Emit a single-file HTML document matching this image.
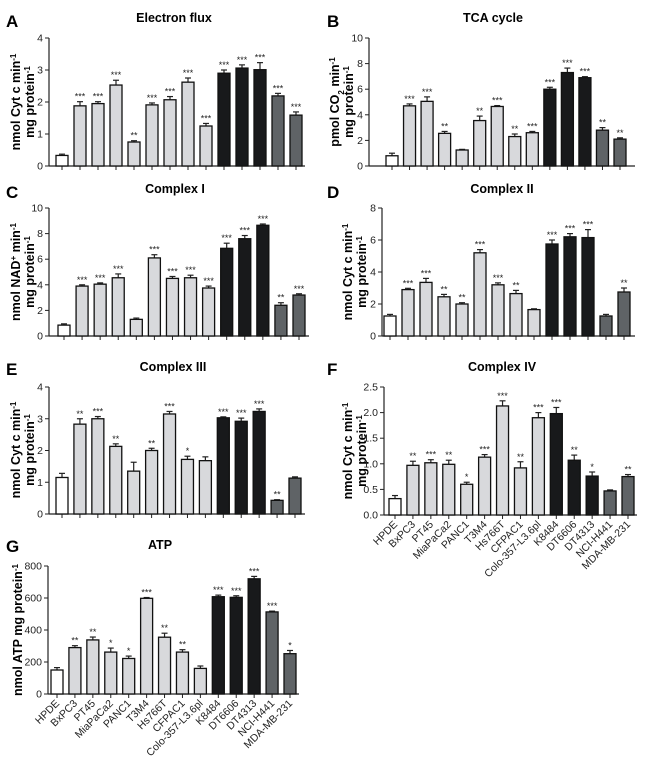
<!DOCTYPE html>
<html><head><meta charset="utf-8"><style>
html,body{margin:0;padding:0;background:#fff;}
svg{display:block;font-family:"Liberation Sans",Arial,sans-serif;}
</style></head><body>
<svg id="fig" width="650" height="769" viewBox="0 0 650 769"></svg>
<script>
const categories = ["HPDE","BxPC3","PT45","MiaPaCa2","PANC1","T3M4","Hs766T","CFPAC1","Colo-357-L3.6pl","K8484","DT6606","DT4313","NCI-H441","MDA-MB-231"];
const valuesA = [0.33,1.88,1.95,2.53,0.75,1.91,2.07,2.62,1.25,2.90,3.06,3.01,2.19,1.59];
const errorsA = [0.04,0.13,0.06,0.15,0.04,0.06,0.10,0.13,0.08,0.10,0.10,0.22,0.08,0.10];
const starsA = ["","***","***","***","**","***","***","***","***","***","***","***","***","***"];
const valuesB = [0.8,4.7,5.05,2.55,1.25,3.55,4.65,2.3,2.6,6.0,7.3,6.9,2.8,2.1];
const errorsB = [0.2,0.15,0.35,0.15,0.05,0.35,0.07,0.2,0.1,0.15,0.35,0.08,0.2,0.1];
const starsB = ["","***","***","**","","**","***","**","***","***","***","***","**","**"];
const valuesC = [0.85,3.9,4.05,4.55,1.3,6.1,4.5,4.55,3.75,6.85,7.6,8.65,2.4,3.2];
const errorsC = [0.1,0.1,0.1,0.3,0.1,0.25,0.15,0.2,0.15,0.4,0.25,0.1,0.2,0.1];
const starsC = ["","***","***","***","","***","***","***","***","***","***","***","**","***"];
const valuesD = [1.25,2.9,3.35,2.45,2.0,5.2,3.2,2.65,1.65,5.75,6.2,6.15,1.25,2.75];
const errorsD = [0.1,0.08,0.25,0.15,0.08,0.2,0.12,0.2,0.05,0.25,0.2,0.5,0.1,0.25];
const starsD = ["","***","***","**","**","***","***","**","","***","***","***","","**"];
const valuesE = [1.15,2.83,3.0,2.13,1.35,2.0,3.15,1.72,1.68,3.03,2.92,3.23,0.43,1.13];
const errorsE = [0.13,0.17,0.07,0.08,0.28,0.07,0.08,0.1,0.12,0.03,0.1,0.08,0.02,0.04];
const starsE = ["","**","***","**","","**","***","*","","***","***","***","**",""];
const valuesF = [0.32,0.97,1.02,0.99,0.6,1.13,2.13,0.92,1.9,1.98,1.07,0.76,0.47,0.75];
const errorsF = [0.06,0.08,0.06,0.08,0.04,0.05,0.1,0.12,0.1,0.12,0.1,0.08,0.02,0.04];
const starsF = ["","**","***","**","*","***","***","**","***","***","**","*","","**"];
const valuesG = [150,290,338,262,222,598,355,262,160,608,604,720,513,252];
const errorsG = [15,12,18,25,15,5,25,15,15,10,10,15,5,20];
const starsG = ["","**","**","*","*","***","**","**","","***","***","***","***","*"];
const ticksAE = ["0","1","2","3","4"];
const ticksBC = ["0","2","4","6","8","10"];
const ticksD = ["0","2","4","6","8"];
const ticksF = ["0.0","0.5","1.0","1.5","2.0","2.5"];
const ticksG = ["0","200","400","600","800"];

const NS="http://www.w3.org/2000/svg";
const svg=document.getElementById('fig');
function mk(tag,attrs,parent){const e=document.createElementNS(NS,tag);for(const k in attrs)e.setAttribute(k,attrs[k]);(parent||svg).appendChild(e);return e;}
function colorFor(i){if(i===0)return"#ffffff";if(i<=8)return"#d8d9dc";if(i<=11)return"#18191b";return"#5f6366";}
const SUP=t=>`<tspan font-size="8" baseline-shift="super">${t}</tspan>`;
const SUB=t=>`<tspan font-size="8" baseline-shift="sub">${t}</tspan>`;

function panel(p){
  const g=mk('g',{});
  
  
  const L=mk('text',{x:p.lx,y:p.ly,'font-size':17,'font-weight':'bold'},g);L.textContent=p.letter;
  
  
  const T=mk('text',{x:p.tx,y:p.ty,'font-size':12.5,'font-weight':'bold','text-anchor':'middle'},g);T.textContent=p.title;
  
  
  const max=parseFloat(p.ticks[p.ticks.length-1]);
  const ys=v=>p.y0-(v/max)*(p.y0-p.ytop);
  const n=categories.length;
  const xs=i=>p.x1+i*(p.xn-p.x1)/(n-1);
  p.ylab.forEach((line,k)=>{
    const yl=mk('text',{transform:`translate(${p.ylx+k*14},${p.yly}) rotate(-90)`,'font-size':12.5,'font-weight':'bold','text-anchor':'middle'},g);
    
    
    yl.innerHTML=line;
  });
  const ax=mk('line',{x1:p.ax,y1:p.ytop,x2:p.ax,y2:p.y0,stroke:'#222','stroke-width':1.2},g);
  
  
  const bx=mk('line',{x1:p.ax,y1:p.y0,x2:p.xend,y2:p.y0,stroke:'#222','stroke-width':1.2},g);
  
  
  p.ticks.forEach(t=>{const v=parseFloat(t),y=ys(v);
    mk('line',{x1:p.ax-4,y1:y,x2:p.ax,y2:y,stroke:'#222','stroke-width':1},g);
    const tl=mk('text',{x:p.ax-6,y:y+3.5,'font-size':10.5,'text-anchor':'end',fill:'#222'},g);tl.textContent=t;
    
    
  });
  const vals=p.values,errs=p.errors,st=p.stars,bw=12;
  for(let i=0;i<n;i++){
    const x=xs(i),top=ys(vals[i]),et=ys(vals[i]+errs[i]);
    mk('line',{x1:x,y1:p.y0,x2:x,y2:p.y0+4,stroke:'#222','stroke-width':1},g);
    mk('line',{x1:x,y1:et,x2:x,y2:top,stroke:'#222','stroke-width':1.2},g);
    mk('line',{x1:x-3,y1:et,x2:x+3,y2:et,stroke:'#222','stroke-width':1.2},g);
    const r=mk('rect',{x:x-bw/2,y:top,width:bw,height:p.y0-top,fill:colorFor(i),stroke:'#111','stroke-width':1.3},g);
    
    
    if(st[i]){const s=mk('text',{x:x,y:et-2,'font-size':9,'text-anchor':'middle',fill:'#222'},g);s.textContent=st[i];
      
      }
    if(p.xlabels){const xl=mk('text',{transform:`translate(${x+3},${p.y0+10}) rotate(-45)`,'font-size':10.5,'text-anchor':'end',fill:'#222'},g);xl.textContent=categories[i];
      
      }
  }
}
const cyt=["nmol Cyt c min"+SUP("-1"),"mg protein"+SUP("-1")];
panel({letter:'A',lx:6,ly:27,title:'Electron flux',tx:174,ty:22,ax:49,y0:166,ytop:38,x1:62,xn:296,xend:305,ticks:ticksAE,values:valuesA,errors:errorsA,stars:starsA,ylab:cyt,ylx:20,yly:102});
panel({letter:'B',lx:327,ly:27,title:'TCA cycle',tx:493,ty:22,ax:369,y0:166,ytop:38,x1:392,xn:620,xend:635,ticks:ticksBC,values:valuesB,errors:errorsB,stars:starsB,ylab:["pmol CO"+SUB("2")+" min"+SUP("-1"),"mg protein"+SUP("-1")],ylx:339,yly:102});
panel({letter:'C',lx:6,ly:198,title:'Complex I',tx:175,ty:193,ax:49,y0:336,ytop:208,x1:64,xn:299,xend:309,ticks:ticksBC,values:valuesC,errors:errorsC,stars:starsC,ylab:["nmol NAD"+SUP("+")+" min"+SUP("-1"),"mg protein"+SUP("-1")],ylx:20,yly:272});
panel({letter:'D',lx:327,ly:198,title:'Complex II',tx:502,ty:193,ax:382,y0:336,ytop:208,x1:390,xn:624,xend:635,ticks:ticksD,values:valuesD,errors:errorsD,stars:starsD,ylab:cyt,ylx:352,yly:272});
panel({letter:'E',lx:6,ly:375,title:'Complex III',tx:173,ty:371,ax:49,y0:514,ytop:387,x1:62,xn:295,xend:305,ticks:ticksAE,values:valuesE,errors:errorsE,stars:starsE,ylab:cyt,ylx:20,yly:450});
panel({letter:'F',lx:327,ly:375,title:'Complex IV',tx:502,ty:371,ax:384,y0:515,ytop:387,x1:395,xn:628,xend:637,ticks:ticksF,values:valuesF,errors:errorsF,stars:starsF,ylab:cyt,ylx:352,yly:451,xlabels:true});
panel({letter:'G',lx:6,ly:552,title:'ATP',tx:160,ty:549,ax:48,y0:694,ytop:566,x1:57,xn:290,xend:299,ticks:ticksG,values:valuesG,errors:errorsG,stars:starsG,ylab:["nmol ATP mg protein"+SUP("-1")],ylx:22,yly:630,xlabels:true});
</script>
</body></html>
